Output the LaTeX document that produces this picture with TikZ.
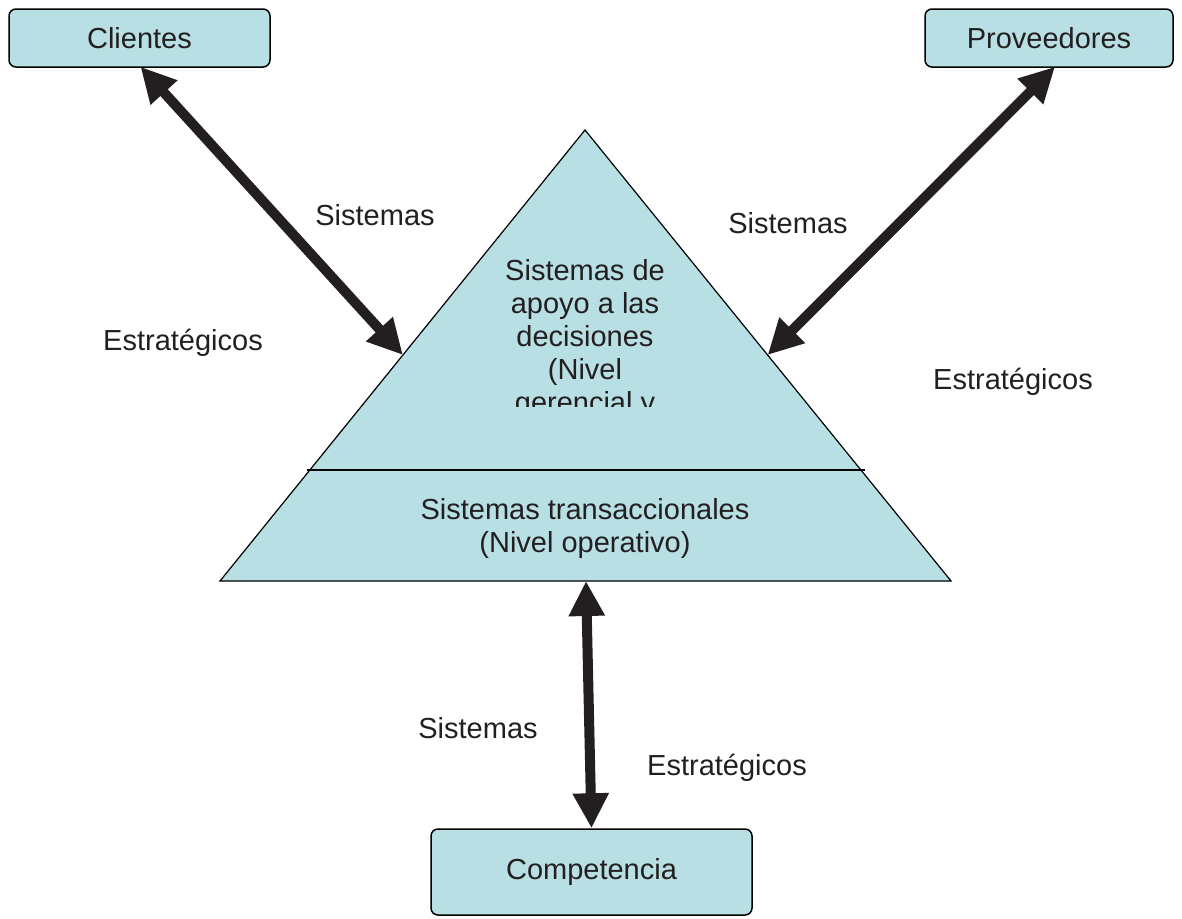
\documentclass[tikz,border=0pt]{standalone}
\usepackage{fontspec}
\setmainfont{Liberation Sans}
\usetikzlibrary{arrows.meta,calc}
\definecolor{fillblue}{RGB}{184,223,227}
\definecolor{txt}{RGB}{35,31,32}
\begin{document}
\begin{tikzpicture}[x=1pt,y=-1pt,
  every node/.style={font=\fontsize{29}{33}\selectfont, text=txt},
  boxnode/.style={draw=black, line width=1.5pt, fill=fillblue, rounded corners=7pt, inner sep=0pt},
  lbl/.style={inner sep=0pt, anchor=center},
  bigarrow/.style={draw=txt, line width=10pt, {Triangle[length=35pt,width=34pt]}-{Triangle[length=35pt,width=34pt]}, shorten <=0pt, shorten >=0pt}
]
\useasboundingbox (0,0) rectangle (1182,918);

% boxes
\node[boxnode, minimum width=261pt, minimum height=58pt] (cli) at (139.5,38) {Clientes};
\node[boxnode, minimum width=248pt, minimum height=58pt] (prov) at (1049,38) {Proveedores};
\node[boxnode, minimum width=321pt, minimum height=86pt] (comp) at (591.5,872) {Competencia};

% pyramid
\coordinate (apex) at (585,130);
\coordinate (bl) at (220,581);
\coordinate (br) at (951,581);
\filldraw[fill=fillblue, draw=black, line width=1.2pt] (apex) -- (bl) -- (br) -- cycle;
\coordinate (sl) at (307,470);
\coordinate (sr) at (865,470);
\draw[line width=1.5pt] (sl) -- (sr);

% upper text (clipped)
\begin{scope}
  \clip (300,200) rectangle (870,406);
  \node[lbl, align=center, anchor=north] (upper) at (585,259) {Sistemas de\\apoyo a las\\decisiones\\(Nivel\\gerencial y};
\end{scope}
\node[lbl, align=center] (lower) at (585,528) {Sistemas transaccionales\\(Nivel operativo)};

% arrow endpoints
\coordinate (tl) at ($(apex)!0.4989!(bl)$);
\coordinate (tr) at ($(apex)!0.4989!(br)$);
\coordinate (tb) at (586,581);
\coordinate (cs) at ([xshift=1pt,yshift=1pt]cli.south);
\coordinate (ps) at ([xshift=6pt,yshift=1pt]prov.south);

\draw[bigarrow] (cs) -- (tl);
\draw[bigarrow] (ps) -- (tr);
\draw[bigarrow] (tb) -- (comp.north);

% labels
\node[lbl] (s1) at (375,215) {Sistemas};
\node[lbl] (e1) at (183,343) {Estratégicos};
\node[lbl] (s2) at (788,223) {Sistemas};
\node[lbl] (e2) at (1013,382) {Estratégicos};
\node[lbl] (s3) at (478,728) {Sistemas};
\node[lbl] (e3) at (727,768) {Estratégicos};
\end{tikzpicture}
\end{document}
